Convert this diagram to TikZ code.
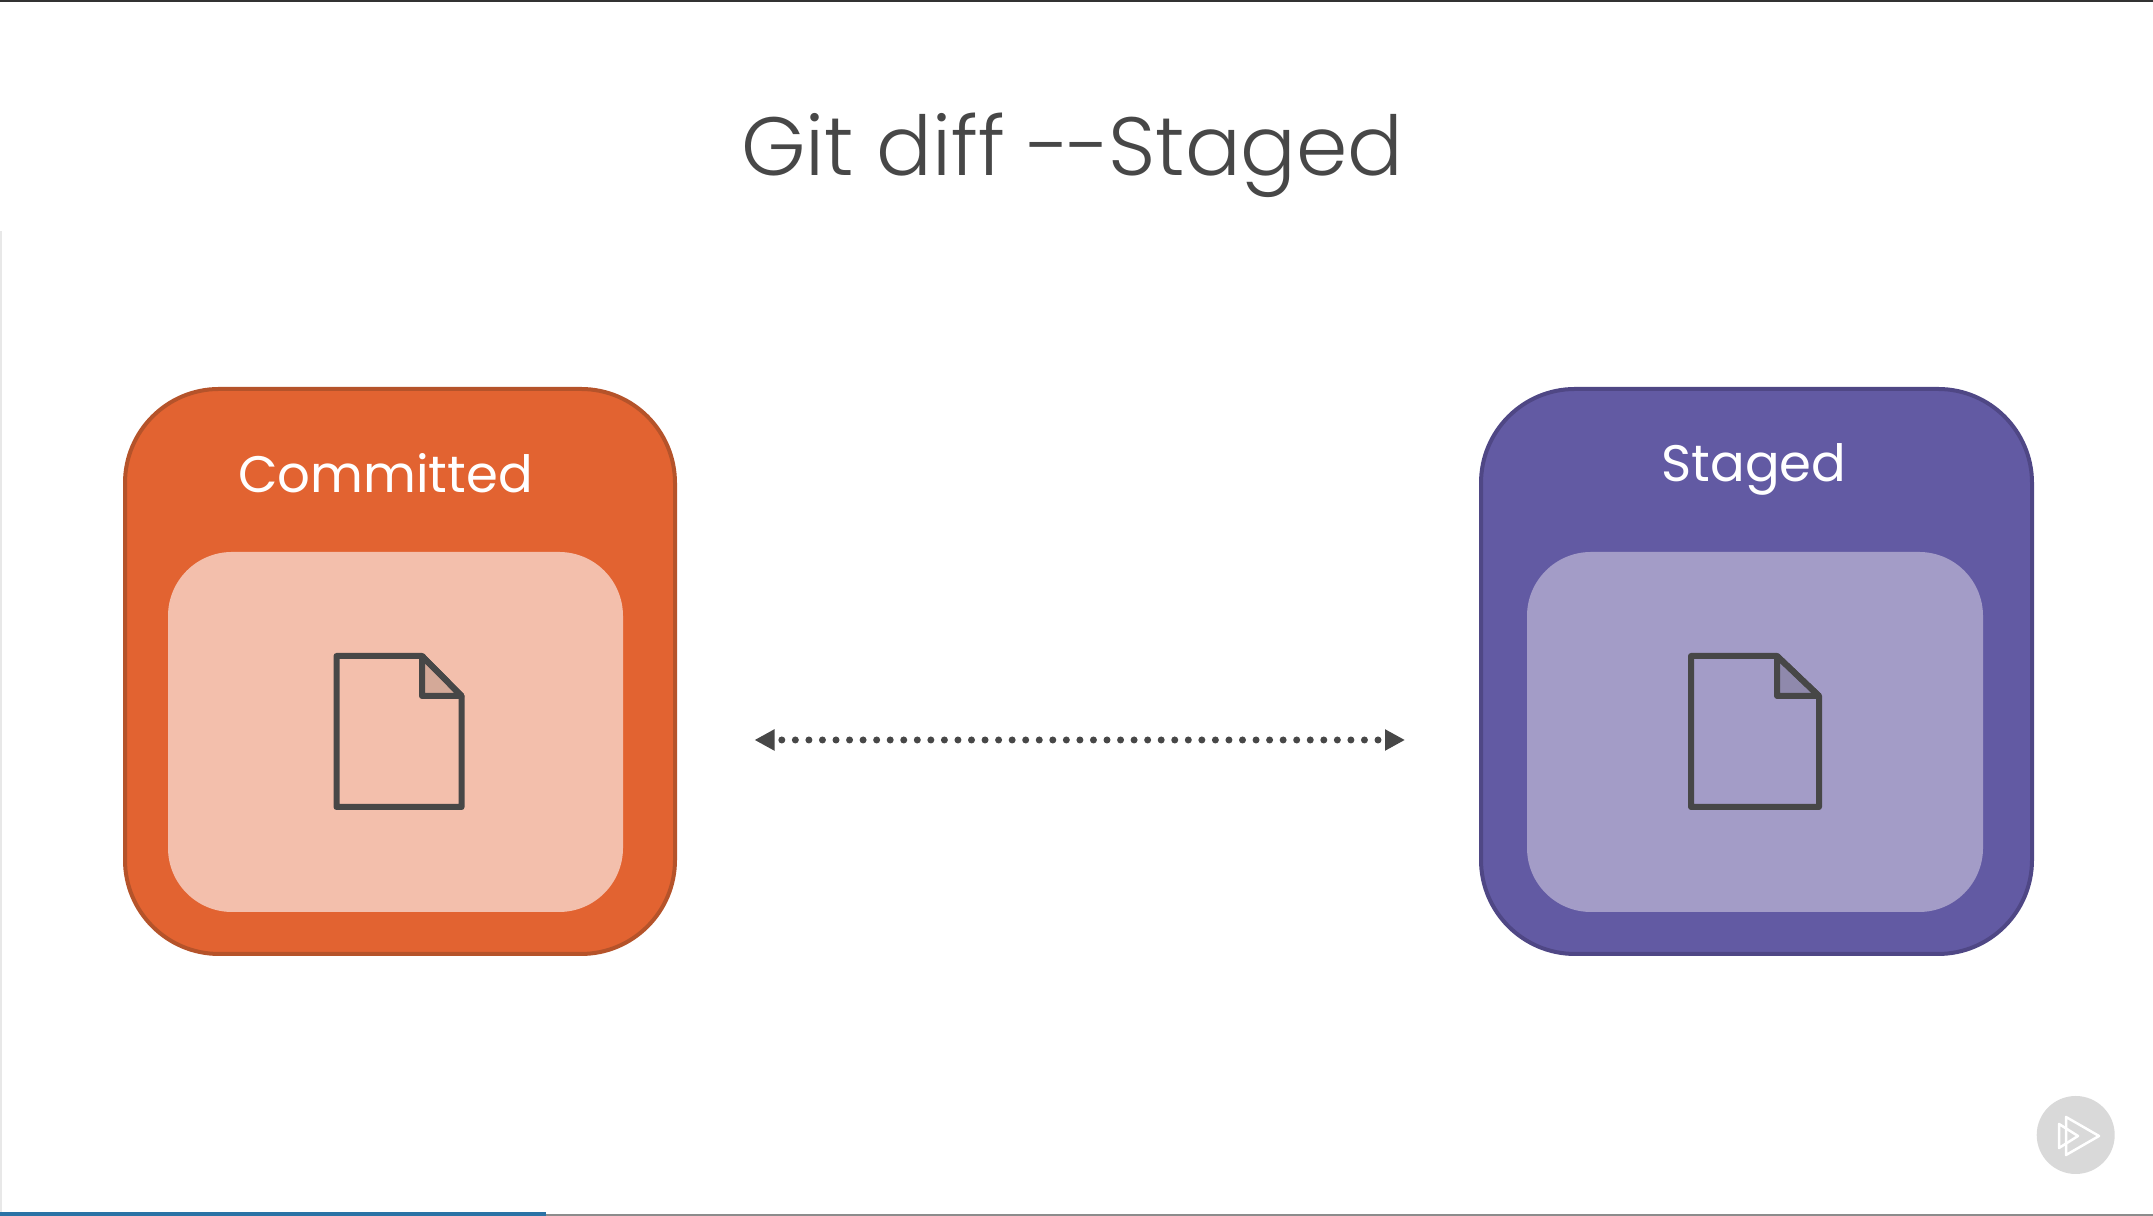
\documentclass[tikz,border=0pt]{standalone}
\usepackage{fontspec}
\setmainfont[UprightFont=* Light]{Poppins}
\newfontfamily\labelfont{Poppins}
\usetikzlibrary{arrows.meta,positioning}
\definecolor{inkgrey}{HTML}{474747}
\definecolor{orangeback}{HTML}{E26331}
\definecolor{orangeline}{HTML}{B5532A}
\definecolor{orangelight}{HTML}{F3BFAC}
\definecolor{orangefold}{HTML}{D4A998}
\definecolor{purpleback}{HTML}{625AA3}
\definecolor{purpleline}{HTML}{4F4785}
\definecolor{purplelight}{HTML}{A39CC7}
\definecolor{purplefold}{HTML}{8F89AC}
\definecolor{barblue}{HTML}{2A72A5}
\begin{document}
\begin{tikzpicture}
[outerbox/.style={rectangle,rounded corners=0.94cm,line width=0.04cm,inner sep=0pt,minimum width=5.5cm,minimum height=5.65cm},
innerbox/.style={rectangle,rounded corners=0.64cm,inner sep=0pt,minimum height=3.6cm},
boxlabel/.style={anchor=base,text=white,font=\labelfont\fontsize{14.6}{14.6}\selectfont},
fileline/.style={draw=inkgrey,line width=0.06cm,line join=round},
arrowline/.style={{Triangle[length=2mm,width=2mm]}-{Triangle[length=2mm,width=2mm]},inkgrey,line width=0.07cm,line cap=round,dash pattern=on 0pt off 0.1355cm,dash phase=0.05cm}]

\useasboundingbox (0,0) rectangle (21.53,12.16);

% frame of the slide
\fill [black!80] (0,12.14) rectangle (21.53,12.16);
\fill [black!9] (0,0.04) rectangle (0.025,9.85);
\fill [black!45] (5.46,0) rectangle (21.53,0.015);
\fill [barblue] (0,0) rectangle (5.46,0.04);

\node (title) at (10.725,10.40) [anchor=base,text=inkgrey,font=\fontsize{23.5}{23.5}\selectfont] {Git diff -\kern-1pt-\kern-0.5pt Staged};

% left box
\node[outerbox,draw=orangeline,fill=orangeback] (committed) at (4,5.445) {};
\node[innerbox,fill=orangelight,minimum width=4.55cm] (committedin) at (3.955,4.84) {};
\node[boxlabel] (committedtext) at (3.855,7.23) {Committed};

\filldraw [fileline,fill=orangefold] (4.22,5.6) -- (4.616,5.2) -- (4.22,5.2) -- cycle;
\draw [fileline] (3.365,4.09) -- (3.365,5.6) -- (4.22,5.6) -- (4.616,5.2) -- (4.616,4.09) -- cycle;

% right box
\node[outerbox,draw=purpleline,fill=purpleback,minimum width=5.51cm] (staged) at (17.565,5.445) {};
\node[innerbox,fill=purplelight,minimum width=4.56cm] (stagedin) at (17.55,4.84) {};
\node[boxlabel] (stagedtext) at (17.54,7.34) {Staged};

\filldraw [fileline,fill=purplefold] (17.77,5.6) -- (18.19,5.2) -- (17.77,5.2) -- cycle;
\draw [fileline] (16.91,4.09) -- (16.91,5.6) -- (17.77,5.6) -- (18.19,5.2) -- (18.19,4.09) -- cycle;

% dotted arrow between the boxes
\coordinate (arrowleft) at (7.545,4.76);
\coordinate (arrowright) at (14.05,4.76);
\draw [arrowline] (arrowleft) -- (arrowright);

% play badge
\node[circle,fill=black!15,inner sep=0pt,minimum size=0.78cm] (badge) at (20.757,0.81) {};
\draw [white,line width=0.025cm,line join=round] (20.66,0.99) -- (20.99,0.8) -- (20.66,0.61) -- cycle;
\draw [white,line width=0.025cm,line join=round] (20.59,0.92) -- (20.78,0.8) -- (20.59,0.68) -- cycle;
\end{tikzpicture}
\end{document}
